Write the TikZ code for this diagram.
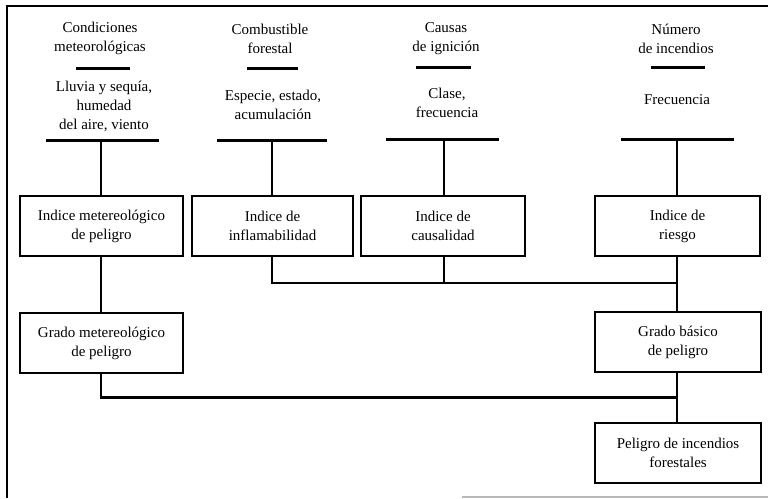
\documentclass[tikz,border=0pt]{standalone}
\usepackage{fontspec}
\setmainfont{Liberation Serif}
\begin{document}
\begin{tikzpicture}[x=1pt,y=-1pt,
  txt/.style={align=center,font=\fontsize{15}{19}\selectfont,inner sep=0pt},
  box/.style={draw,line width=2.8pt,align=center,font=\fontsize{15}{19}\selectfont,minimum height=60pt,inner sep=0pt},
  bar/.style={line width=3pt},
  conn/.style={line width=2.6pt},
  frame/.style={line width=2.6pt}]
\useasboundingbox (0,0) rectangle (768,498);
% frame
\draw[frame] (768,6) -- (7,6) -- (7,498);
\draw[line width=2pt,gray!55] (462,497) -- (768,497);
% headers
\node[txt] (h1) at (100,38.5) {Condiciones\\meteorológicas};
\node[txt] (h2) at (270,38.5) {Combustible\\forestal};
\node[txt] (h3) at (446,38.5) {Causas\\de ignición};
\node[txt] (h4) at (676,38.5) {Número\\de incendios};
% sub texts
\node[txt] (s1) at (104,106) {Lluvia y sequía,\\humedad\\del aire, viento};
\node[txt] (s2) at (273,104.5) {Especie, estado,\\acumulación};
\node[txt] (s3) at (447,103) {Clase,\\frecuencia};
\node[txt] (s4) at (677,99.5) {Frecuencia};
% short bars
\draw[bar] (76,68) -- (130,68);
\draw[bar] (247,68) -- (298,68);
\draw[bar] (416,67) -- (471,67);
\draw[bar] (651,67) -- (705,67);
% long bars
\coordinate (b1) at (101,140.5);
\coordinate (b2) at (272,140);
\coordinate (b3) at (444,139);
\coordinate (b4) at (677,139);
\draw[bar] (46,140.5) -- (159,140.5);
\draw[bar] (217,140) -- (327,140);
\draw[bar] (386,139) -- (499,139);
\draw[bar] (621,139) -- (734,139);
% boxes
\node[box,minimum width=163pt] (i1) at (101.5,226) {Indice metereológico\\de peligro};
\node[box,minimum width=161pt] (i2) at (272.5,226) {Indice de\\inflamabilidad};
\node[box,minimum width=164pt] (i3) at (443,226) {Indice de\\causalidad};
\node[box,minimum width=165pt] (i4) at (677.5,226) {Indice de\\riesgo};
\node[box,minimum width=163pt] (g1) at (101.5,343) {Grado metereológico\\de peligro};
\node[box,minimum width=166pt] (g2) at (678,342) {Grado básico\\de peligro};
\node[box,minimum width=166pt] (p) at (678,453) {Peligro de incendios\\forestales};
% connectors
\draw[conn] (b1) -- (b1 |- i1.north);
\draw[conn] (b2) -- (b2 |- i2.north);
\draw[conn] (b3) -- (b3 |- i3.north);
\draw[conn] (b4) -- (b4 |- i4.north);
\coordinate (j1) at (272,283);
\coordinate (j2) at (101,397.5);
\draw[conn] (i2.south -| j1) -- (j1) -- (j1 -| g2.north);
\draw[conn] (i3.south -| b3) -- (b3 |- j1);
\draw[conn] (i4.south -| b4) -- (b4 |- g2.north);
\draw[conn] (i1.south -| j2) -- (g1.north -| j2);
\draw[conn] (g1.south -| j2) -- (j2) -- (j2 -| g2.south);
\draw[conn] (g2.south -| b4) -- (b4 |- p.north);
\end{tikzpicture}
\end{document}
